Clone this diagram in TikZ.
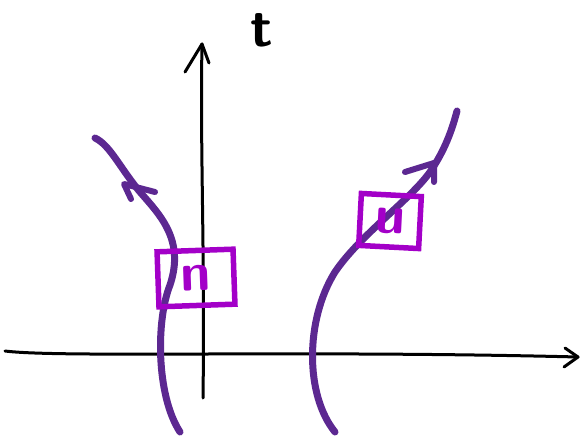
\documentclass[tikz,border=0pt]{standalone}
\usepackage{tikz}
\usetikzlibrary{arrows.meta}
\definecolor{worldline}{RGB}{92,40,145}
\definecolor{boxmag}{RGB}{163,0,200}

\begin{document}
\begin{tikzpicture}[x=1pt,y=-1pt,
    axis/.style={line width=3pt, line cap=round, line join=round},
    wline/.style={worldline, line width=7pt, line cap=round, line join=round},
    label box/.style={draw=boxmag, line width=5.5pt, text=boxmag, inner sep=0pt,
      font=\bfseries\sffamily\fontsize{54}{54}\selectfont},
    tip/.style={wline, line width=6pt}]
  \useasboundingbox (0,0) rectangle (584,441);

  % axes
  \coordinate (xl) at (5,351);
  \coordinate (xr) at (578,357);
  \coordinate (tb) at (203,398);
  \coordinate (tt) at (202,44);
  \draw[axis] (xl) .. controls (60,358) and (300,350) .. (xr);
  \draw[axis] (565,348) -- (xr) -- (564,367);
  \draw[axis] (tb) .. controls (205,250) and (200,150) .. (tt);
  \draw[axis] (185,72) -- (tt) -- (209,63);
  \node[font=\bfseries\sffamily\fontsize{56}{56}\selectfont] (tlab) at (262,30) {t};

  % left world line, pointing back in time
  \coordinate (lbot) at (180,432);
  \coordinate (ltop) at (95,138);
  \draw[wline] (lbot) .. controls (156,395) and (156,320) .. (170,285)
    .. controls (185,240) and (160,215) .. (140,192)
    .. controls (120,168) and (110,145) .. (ltop);
  \coordinate (larr) at (124,184);
  \draw[tip] (131,199) -- (larr) -- (155,192);

  % right world line
  \coordinate (rbot) at (335,432);
  \coordinate (rtop) at (457,111);
  \draw[wline] (rbot) .. controls (305,395) and (305,320) .. (335,272)
    .. controls (360,235) and (410,200) .. (430,172)
    .. controls (445,150) and (452,130) .. (rtop);
  \coordinate (rarr) at (434,163);
  \draw[tip] (405,172) -- (rarr) -- (434,182);

  % boxed labels
  \node[label box, minimum width=76pt, minimum height=55pt, rotate=2] (ubar) at (196,278)
    {\rotatebox{180}{u}};
  \node[label box, minimum width=60pt, minimum height=52pt, rotate=-3] (u) at (390,221) {u};
\end{tikzpicture}
\end{document}
